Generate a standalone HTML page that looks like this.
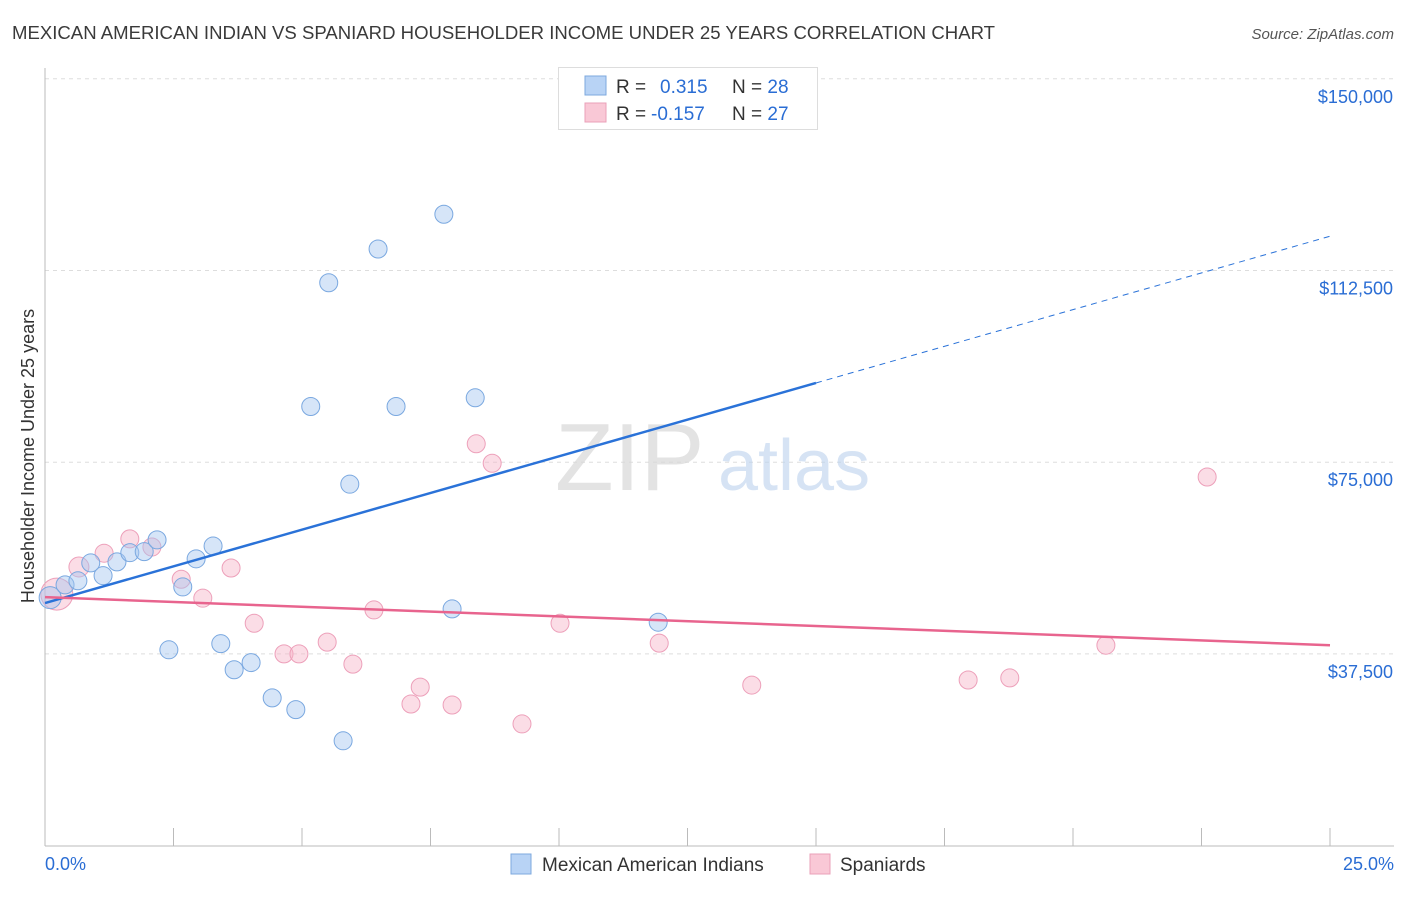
<!DOCTYPE html>
<html><head><meta charset="utf-8"><style>
body{margin:0;background:#fff;font-family:"Liberation Sans",sans-serif}
svg text{font-family:"Liberation Sans",sans-serif}
</style></head><body>
<svg id="c" width="1406" height="892" xmlns="http://www.w3.org/2000/svg">
<text x="12" y="39" font-size="18" fill="#3a3a3a" textLength="983" lengthAdjust="spacingAndGlyphs">MEXICAN AMERICAN INDIAN VS SPANIARD HOUSEHOLDER INCOME UNDER 25 YEARS CORRELATION CHART</text>
<text x="1394" y="39" font-size="15" fill="#555" font-style="italic" text-anchor="end">Source: ZipAtlas.com</text>
<g id="grid"></g>
<g id="wm"><text x="555" y="490" font-size="96" fill="#d8d8d8" font-family="Liberation Serif" opacity="0.7">ZIP</text><text x="718" y="490" font-size="72" fill="#bcd2ee" opacity="0.6">atlas</text></g>
<line x1="45" y1="68" x2="45" y2="846" stroke="#bbb"/>
<line x1="45" y1="846" x2="1394" y2="846" stroke="#bbb"/>
<g id="xt"></g>
<g id="yl"></g>
<text x="34" y="456" font-size="18" fill="#333" text-anchor="middle" transform="rotate(-90 34 456)">Householder Income Under 25 years</text>
<text x="45" y="870" font-size="18" fill="#2a6dd4">0.0%</text>
<text x="1394" y="870" font-size="18" fill="#2a6dd4" text-anchor="end">25.0%</text>
<g id="pts"></g>
<g id="trend"></g>
<g>
<rect x="558.5" y="67.5" width="259" height="62" fill="#fff" stroke="#ddd"/>
<rect x="585" y="76" width="21" height="19" fill="#b8d3f5" stroke="#7ea8de"/>
<rect x="585" y="103" width="21" height="19" fill="#f9c8d6" stroke="#eaa0b8"/>
<text x="616" y="93" font-size="19" fill="#333">R = <tspan fill="#2a6dd4" x="660">0.315</tspan><tspan x="732" fill="#333">N = </tspan><tspan fill="#2a6dd4">28</tspan></text>
<text x="616" y="120" font-size="19" fill="#333">R = <tspan fill="#2a6dd4" x="651">-0.157</tspan><tspan x="732" fill="#333">N = </tspan><tspan fill="#2a6dd4">27</tspan></text>
</g>
<g>
<rect x="511" y="854" width="20" height="20" fill="#b8d3f5" stroke="#7ea8de"/>
<text x="542" y="871" font-size="19" fill="#333">Mexican American Indians</text>
<rect x="810" y="854" width="20" height="20" fill="#f9c8d6" stroke="#eaa0b8"/>
<text x="840" y="871" font-size="19" fill="#333">Spaniards</text>
</g>
</svg>
<script>
const yTicks=[37500,75000,112500,150000];
const yTickLabels=["$37,500","$75,000","$112,500","$150,000"];
const xTicks=[0,2.5,5,7.5,10,12.5,15,17.5,20,22.5,25];
const blueX=[0.10,0.39,0.64,0.89,1.13,1.40,1.65,1.93,2.18,2.41,2.68,2.94,3.27,3.42,3.68,4.01,4.42,4.88,5.17,5.52,5.80,5.93,6.48,6.83,7.76,7.92,8.37,11.93];
const blueY=[48500,51000,51800,55300,52800,55500,57300,57500,59800,38300,50600,56100,58600,39500,34400,35800,28900,26600,85900,110100,20500,70700,116700,85900,123500,46300,87600,43700];
const blueR=[11,9,9,9,9,9,9,9,9,9,9,9,9,9,9,9,9,9,9,9,9,9,9,9,9,9,9,9];
const pinkX=[0.23,0.66,1.15,1.65,2.08,2.65,3.07,3.62,4.07,4.65,4.94,5.49,5.99,6.40,7.12,7.30,7.92,8.39,8.70,9.28,10.02,11.95,13.75,17.96,18.77,20.64,22.61];
const pinkY=[49200,54500,57200,60000,58400,52100,48400,54300,43500,37500,37500,39800,35500,46100,27700,31000,27500,78600,74800,23800,43500,39600,31400,32400,32800,39200,72100];
const pinkR=[16,10,9,9,9,9,9,9,9,9,9,9,9,9,9,9,9,9,9,9,9,9,9,9,9,9,9];
const blueTrend=[[0,47450],[15,90500],[25,119200]];
const pinkTrend=[[0,48600],[25,39200]];
const NS="http://www.w3.org/2000/svg";
const sx=v=>45+v/25*1285;
const sy=v=>845.6-v/37500*191.7;
function mk(t,a,p){const e=document.createElementNS(NS,t);for(const k in a)e.setAttribute(k,a[k]);p.appendChild(e);return e;}
const g=document.getElementById('grid'),yl=document.getElementById('yl'),xt=document.getElementById('xt');
yTicks.forEach((v,i)=>{
 const l=mk('line',{x1:45,x2:1394,y1:sy(v),y2:sy(v),stroke:'#ddd','stroke-dasharray':'4,4'},g);
 
 
 const t=mk('text',{x:1393,y:sy(v)+24,'font-size':18,fill:'#2a6dd4','text-anchor':'end'},yl);
 t.textContent=yTickLabels[i];
 
 
});
xTicks.forEach(v=>{
 const l=mk('line',{x1:sx(v),x2:sx(v),y1:828,y2:846,stroke:'#bbb'},xt);
 
 
});
const pts=document.getElementById('pts');
pinkX.forEach((x,i)=>{
 const c=mk('circle',{cx:sx(x),cy:sy(pinkY[i]),r:pinkR[i],fill:'rgba(246,180,200,0.45)',stroke:'#eda0ba','stroke-width':1},pts);
 
 
});
blueX.forEach((x,i)=>{
 const c=mk('circle',{cx:sx(x),cy:sy(blueY[i]),r:blueR[i],fill:'rgba(165,198,240,0.45)',stroke:'#7aa8e0','stroke-width':1},pts);
 
 
});
const tr=document.getElementById('trend');
const b1=mk('line',{x1:sx(blueTrend[0][0]),y1:sy(blueTrend[0][1]),x2:sx(blueTrend[1][0]),y2:sy(blueTrend[1][1]),stroke:'#2a72d8','stroke-width':2.5},tr);


const b2=mk('line',{x1:sx(blueTrend[1][0]),y1:sy(blueTrend[1][1]),x2:sx(blueTrend[2][0]),y2:sy(blueTrend[2][1]),stroke:'#2a72d8','stroke-width':1,'stroke-dasharray':'6,5'},tr);


const p1=mk('line',{x1:sx(pinkTrend[0][0]),y1:sy(pinkTrend[0][1]),x2:sx(pinkTrend[1][0]),y2:sy(pinkTrend[1][1]),stroke:'#e8648e','stroke-width':2.5},tr);


</script>
</body></html>
